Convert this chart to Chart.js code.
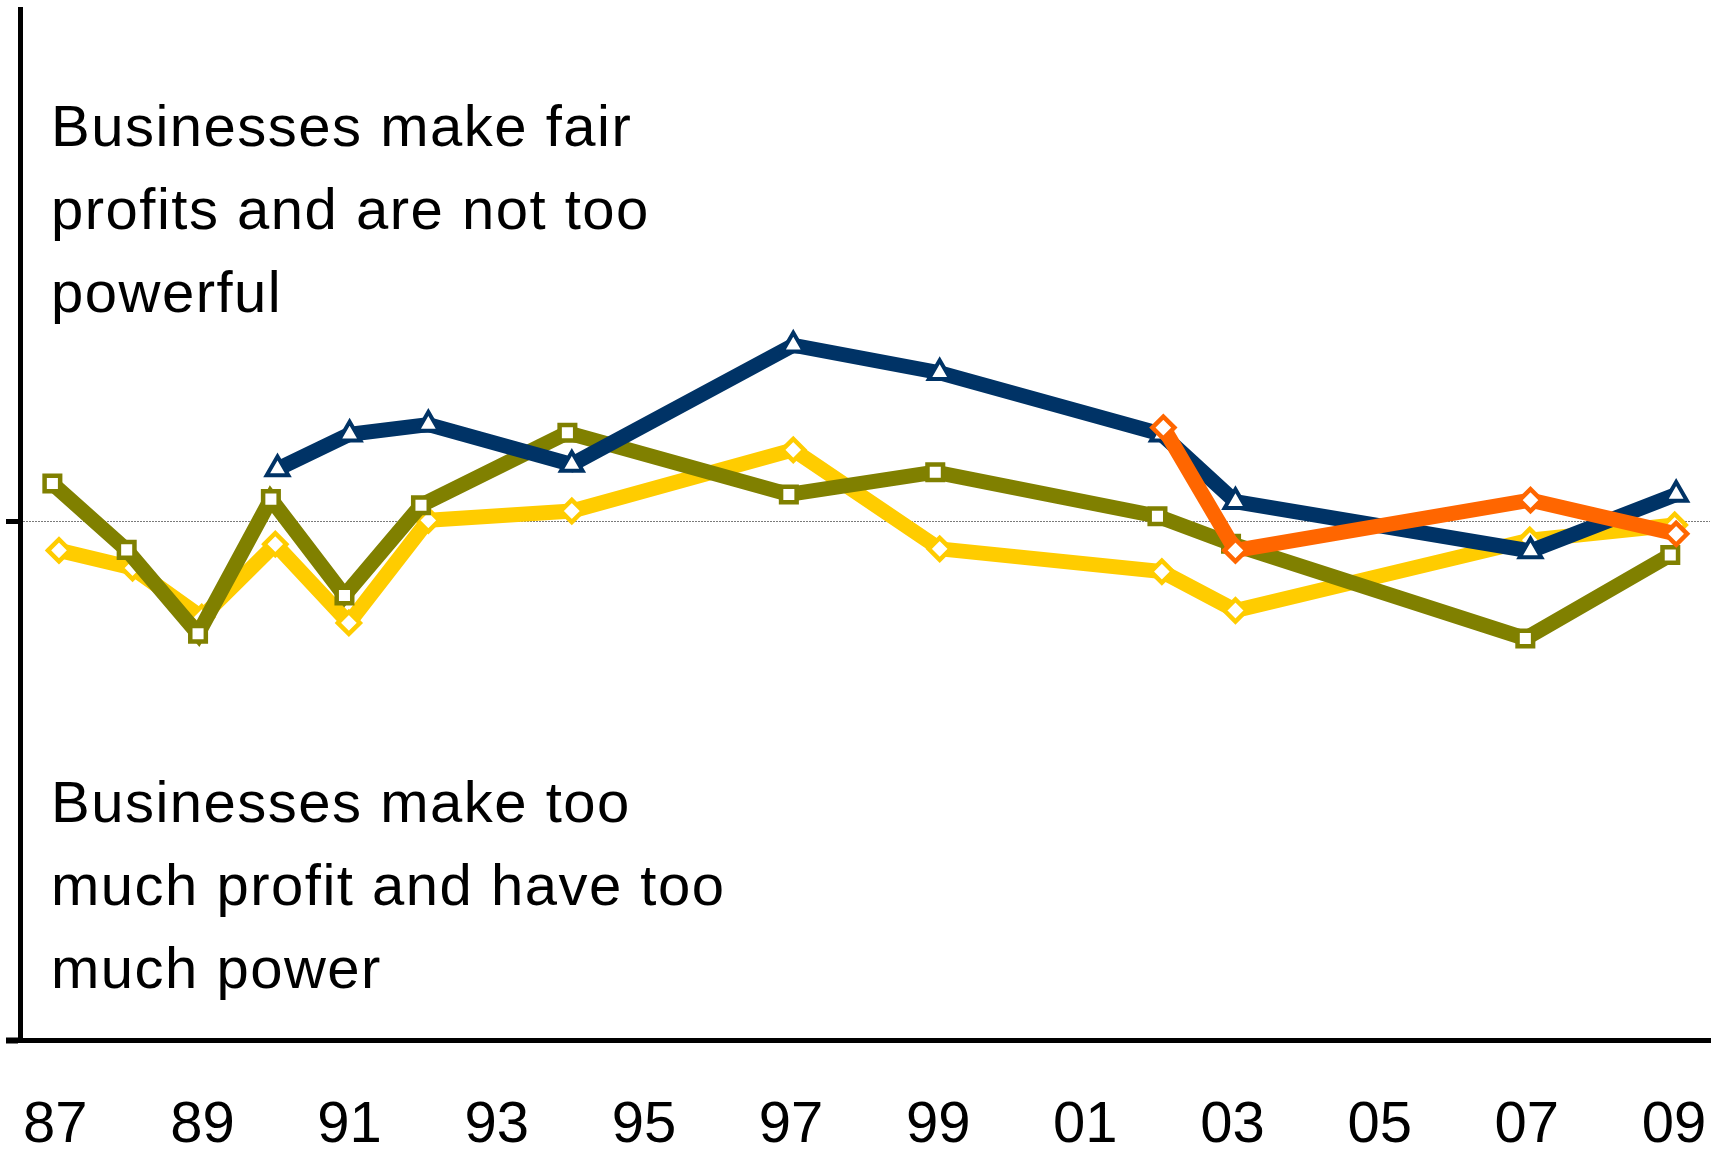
<!DOCTYPE html>
<html>
<head>
<meta charset="utf-8">
<script src="https://cdn.jsdelivr.net/npm/chart.js@4.4.1/dist/chart.umd.min.js"></script>
<style>
  html, body { margin: 0; padding: 0; background: #fff; overflow: hidden; }
  canvas { display: block; }
</style>
</head>
<body>
<canvas id="chart" width="1721" height="1154"></canvas>
<script>
// survey years (fractional: fieldwork timing) and net scores per series
const tickYears = [1987, 1989, 1991, 1993, 1995, 1997, 1999, 2001, 2003, 2005, 2007, 2009];
const yTicks = [-100, 0];

const goldYears  = [1987.05, 1988.05, 1988.99, 1989.99, 1990.99, 1992.07, 1994.02, 1997.03, 1999.02, 2002.04, 2003.04, 2007.04, 2009.01];
const goldValues = [-5.5, -8.9, -18.4, -4.3, -19.5, 0.3, 2.1, 13.9, -5.2, -9.6, -17.1, -3.5, -0.6];

const oliveYears  = [1986.96, 1987.97, 1988.94, 1989.93, 1990.93, 1991.97, 1993.96, 1996.97, 1998.96, 2001.98, 2002.98, 2006.98, 2008.95];
const oliveValues = [7.4, -5.4, -21.6, 4.4, -14.2, 3.2, 17.2, 5.3, 9.6, 1.1, -4.2, -22.5, -6.4];

const navyYears  = [1990.02, 1991.0, 1992.07, 1994.02, 1997.03, 1999.02, 2002.04, 2003.04, 2007.05, 2009.03];
const navyValues = [10.2, 16.9, 18.8, 11.1, 34.1, 28.8, 16.9, 3.9, -5.6, 5.3];

const orangeYears  = [2002.06, 2003.04, 2007.05, 2009.03];
const orangeValues = [18.2, -5.5, 4.2, -2.3];

const noteTop    = ['Businesses make fair', 'profits and are not too', 'powerful'];
const noteBottom = ['Businesses make too', 'much profit and have too', 'much power'];

const FONT = '"Liberation Sans", Arial, sans-serif';

function pts(xs, ys) {
  return xs.map((x, i) => ({ x, y: ys[i] }));
}

function series(xs, ys, color, style, radius, bw, order) {
  return {
    data: pts(xs, ys),
    borderColor: color,
    borderWidth: 15,
    pointStyle: style,
    pointRadius: radius,
    pointBorderWidth: bw,
    pointBorderColor: color,
    pointBackgroundColor: '#ffffff',
    tension: 0,
    fill: false,
    order
  };
}

// text blocks explaining the top and bottom halves
const notes = {
  id: 'notes',
  beforeDatasetsDraw(chart) {
    const { ctx, chartArea, scales } = chart;
    const x = chartArea.left + 31;
    const lh = 83;
    const mid = scales.y.getPixelForValue(0);
    ctx.save();
    ctx.fillStyle = '#000';
    ctx.font = '58px ' + FONT;
    ctx.letterSpacing = '1.5px';
    ctx.textBaseline = 'alphabetic';
    ctx.textAlign = 'left';
    noteTop.forEach((t, i) => ctx.fillText(t, x, mid - 376 + i * lh));
    noteBottom.forEach((t, i) => ctx.fillText(t, x, mid + 300 + i * lh));
    ctx.restore();
  }
};

new Chart(document.getElementById('chart'), {
  type: 'line',
  data: {
    datasets: [
      series(goldYears, goldValues, '#FFCC00', 'rectRot', 11, 4.5, 4),
      series(oliveYears, oliveValues, '#808000', 'rect', 11, 4.5, 3),
      series(navyYears, navyValues, '#003366', 'triangle', 12.5, 4, 2),
      series(orangeYears, orangeValues, '#FF6600', 'rectRot', 11, 4.5, 1)
    ]
  },
  options: {
    responsive: false,
    animation: false,
    devicePixelRatio: 1,
    // the tall label line box pushes the year labels below the axis,
    // so the bottom padding pulls the axis back down
    layout: { autoPadding: false, padding: { left: 6, top: 9, right: 11, bottom: -58 } },
    plugins: {
      legend: { display: false },
      tooltip: { enabled: false }
    },
    scales: {
      x: {
        type: 'linear',
        min: 1986.52,
        max: 2009.49,
        afterBuildTicks: (s) => { s.ticks = tickYears.map(v => ({ value: v })); },
        grid: { display: false, drawTicks: false },
        border: { display: true, color: '#000', width: 5 },
        ticks: {
          padding: 0,
          color: '#000',
          maxRotation: 0,
          autoSkip: false,
          font: { family: FONT, size: 58, lineHeight: '172px' },
          callback: (v) => String(v % 100).padStart(2, '0')
        }
      },
      y: {
        min: -100,
        max: 99,
        afterBuildTicks: (s) => { s.ticks = yTicks.map(v => ({ value: v })); },
        ticks: { display: false },
        grid: {
          drawOnChartArea: true,
          drawTicks: true,
          tickLength: 14,
          color: (c) => (c.tick && c.tick.value === 0 ? '#7a7a7a' : 'rgba(0,0,0,0)'),
          lineWidth: 1,
          tickColor: '#000',
          tickWidth: (c) => (c.tick && c.tick.value === 0 ? 5 : 6)
        },
        border: { display: true, color: '#000', width: 5, dash: [2, 1] }
      }
    }
  },
  plugins: [notes]
});
</script>
</body>
</html>
